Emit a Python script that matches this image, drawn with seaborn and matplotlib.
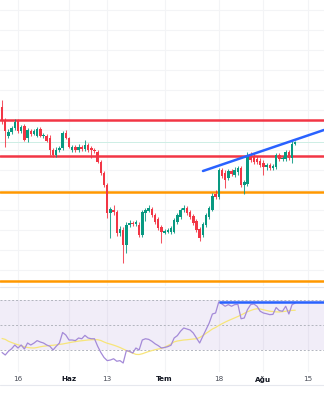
import numpy as np
import pandas as pd
import matplotlib
matplotlib.use("Agg")
import matplotlib.pyplot as plt
from matplotlib.lines import Line2D
import seaborn as sns

# ---------------- data ----------------
day = list(range(-5, 88))
opens = [293, 280, 264, 268, 272, 279, 269, 274, 262, 269, 266, 264, 271, 264, 264, 262,
         250, 245, 250, 252, 267, 262, 250, 253, 250, 253, 251, 255, 252, 250, 248, 238,
         227, 215, 187, 190, 188, 167, 170, 155, 175, 177, 176, 175, 165, 187, 189, 191,
         185, 181, 173, 167, 168, 168, 168, 178, 183, 190, 192, 188, 184, 179, 171, 165,
         175, 183, 190, 206, 203, 230, 227, 222, 229, 225, 228, 232, 215, 216, 245, 244,
         241, 239, 237, 233, 235, 232, 233, 245, 241, 241, 248, 242, 256]
closes = [280, 269, 268, 272, 278, 269, 273, 260, 270, 266, 269, 271, 264, 265, 259, 250,
          245, 250, 252, 267, 262, 253, 253, 250, 253, 251, 255, 250, 250, 249, 238, 227,
          215, 187, 191, 188, 167, 171, 155, 175, 177, 176, 178, 165, 188, 190, 192, 185,
          178, 172, 168, 169, 170, 172, 180, 185, 190, 192, 187, 183, 177, 170, 162, 176,
          185, 192, 204, 203, 230, 224, 220, 229, 226, 230, 232, 215, 218, 244, 240, 238,
          238, 235, 233, 235, 232, 234, 245, 241, 242, 248, 242, 256, 258]
highs = [300, 282, 271, 274, 281, 281, 275, 276, 272, 271, 271, 273, 273, 267, 266, 265,
         252, 253, 254, 269, 270, 263, 255, 255, 256, 255, 260, 257, 254, 252, 250, 240,
         229, 217, 193, 195, 190, 174, 173, 178, 180, 179, 180, 178, 190, 192, 195, 193,
         187, 183, 175, 171, 172, 174, 182, 187, 192, 195, 194, 190, 186, 181, 173, 178,
         187, 194, 207, 210, 232, 232, 230, 231, 231, 233, 234, 234, 220, 248, 248, 247,
         244, 242, 240, 237, 237, 236, 247, 247, 244, 250, 250, 259, 259]
lows = [276, 253, 262, 266, 270, 267, 267, 259, 258, 264, 265, 263, 263, 262, 258, 245,
        243, 243, 248, 250, 261, 252, 248, 248, 248, 249, 249, 248, 242, 247, 237, 225,
        213, 182, 162, 185, 164, 164, 137, 147, 173, 174, 174, 163, 163, 179, 188, 183,
        176, 170, 157, 166, 167, 166, 167, 176, 181, 188, 185, 181, 175, 168, 159, 163,
        173, 181, 189, 201, 201, 222, 212, 220, 224, 223, 225, 213, 206, 214, 238, 236,
        236, 233, 225, 230, 230, 230, 231, 239, 239, 239, 240, 237, 255]

rsi = [28, 26, 29, 31, 34, 31.6, 34, 30.8, 35.6, 34, 35.5, 37.5, 36.4, 35.6, 34, 33,
       30, 33, 35.6, 44, 42, 38, 38, 37.5, 39.6, 39, 41.7, 39.6, 39, 39, 33, 28,
       24, 21.5, 22, 23, 21, 21.5, 19.6, 29.5, 29, 27.6, 31.6, 30, 38, 39, 38.5, 37,
       35, 33.5, 31.6, 32, 32.7, 33.8, 39.6, 41.5, 45, 47.6, 46.8, 46, 43.6, 39.6, 35.6, 41,
       46.3, 51.6, 58.8, 59.6, 68.5, 66.8, 65, 66.3, 65, 66.3, 66.5, 55, 55.6, 62.3, 66.3, 66.8,
       65, 61, 59.6, 59, 58.3, 58.5, 64, 61.5, 61, 65, 58.8, 66.3, 67.6]
rsi_ma = [39.2, 38.5, 37, 36, 35, 34.2, 33.5, 32.5, 32, 31.7, 31.6, 32, 32.6, 33, 33.3, 33.6,
          33.8, 34.1, 34.5, 34.8, 35.3, 35.8, 36.3, 36.7, 37.1, 37.4, 37.7, 38, 38.2, 38.3, 38.2, 37.6,
          36.4, 35.4, 34.7, 33.9, 33, 32, 30.8, 29.6, 28.5, 27.5, 26.5, 26.4, 27, 27.9, 28.8, 29.5,
          30.2, 30.8, 31.3, 32.2, 33.5, 34.8, 36.5, 37.2, 37.6, 38, 38.2, 38.5, 38.8, 39, 40, 41.5,
          43.3, 45, 46.8, 48, 49.6, 51, 52.3, 53.5, 54.6, 55.7, 56.8, 58, 59.3, 60.6, 61.6, 62.5,
          63, 62.8, 62.2, 61.6, 61, 60.8, 60.5, 60.4, 60.7, 61, 61.5, 61.7, 61.8]

tick_days = [0, 16, 28, 46, 63, 77, 91]
tick_labels = ["16", "Haz", "13", "Tem", "18", "Ağu", "15"]
month_labels = ["Haz", "Tem", "Ağu"]
price_grid = list(range(130, 400, 20))
resistance_levels = [280, 244]
support_levels = [208.5, 119]
last_price = 258
trend_days = [58.05, 96.0]
trend_prices = [229, 270]
rsi_bands = [30, 50, 70]
rsi_trend_level = 68.4
rsi_trend_start = 63

# ---------------- styling ----------------
sns.set_theme(style="white")
plt.rcParams["font.family"] = ["DejaVu Sans"]

UP = "#089981"
DOWN = "#F23645"
GRID = "#f3f4f6"

W, H = 324, 400
fig = plt.figure(figsize=(W / 100, H / 100), dpi=100)
fig.patch.set_facecolor("white")

XMIN, XMAX = -5.648, 96.02
ax = fig.add_axes([0, 1 - 286 / H, 1, 286 / H])
ax2 = fig.add_axes([0, 1 - 372 / H, 1, (372 - 287) / H])

df = pd.DataFrame({"day": day, "open": opens, "close": closes, "high": highs, "low": lows})
df["up"] = df["close"] >= df["open"]
df["color"] = np.where(df["up"], UP, DOWN)
df["bottom"] = df[["open", "close"]].min(axis=1)
df["height"] = (df["close"] - df["open"]).abs().clip(lower=1.0)

# gridlines
for d in tick_days:
    ax.axvline(d, color=GRID, lw=0.8, zorder=0)
    ax2.axvline(d, color=GRID, lw=0.8, zorder=0)
for p in price_grid:
    ax.axhline(p, color=GRID, lw=0.8, zorder=0)

# levels
ax.axhline(last_price, color="#cdeee5", lw=0.7, zorder=1)
for lv in resistance_levels:
    ax.axhline(lv, color=DOWN, lw=1.8, zorder=2)
for lv in support_levels:
    ax.axhline(lv, color="#FF9800", lw=1.8, zorder=2)

# candles
ax.vlines(df["day"], df["low"], df["high"], colors=df["color"], lw=0.75, alpha=0.85, zorder=3)
ax.bar(df["day"], df["height"], bottom=df["bottom"], width=0.78,
       color=df["color"], linewidth=0, zorder=4)

# trend line
sns.lineplot(x=trend_days, y=trend_prices, ax=ax, color="#2962FF", lw=1.8, zorder=5)

ax.set_xlim(XMIN, XMAX)
ax.set_ylim(114, 400)
ax.set_xticks([])
ax.set_yticks([])
for s in ax.spines.values():
    s.set_visible(False)
ax.set_facecolor("white")

# RSI panel
ax2.axhspan(rsi_bands[0], rsi_bands[2], color="#7E57C2", alpha=0.1, lw=0, zorder=0)
for b in rsi_bands:
    ax2.axhline(b, color="#b2b5be", lw=0.7, ls=(0, (2, 2)), zorder=1)
sns.lineplot(x=day, y=rsi_ma, ax=ax2, color="#f7e57a", lw=0.9, zorder=2)
sns.lineplot(x=day, y=rsi, ax=ax2, color="#a48ad8", lw=0.9, zorder=3)
ax2.hlines(rsi_trend_level, rsi_trend_start, XMAX, color="#2962FF", lw=1.8, zorder=4)

ax2.set_xlim(XMIN, XMAX)
ax2.set_ylim(12.4, 80.4)
ax2.set_yticks([])
ax2.set_xticks(tick_days)
ax2.set_xticklabels(tick_labels)
ax2.tick_params(axis="x", length=0, pad=3, labelsize=5.2, colors="#4a4e59")
for lab in ax2.get_xticklabels():
    if lab.get_text() in month_labels:
        lab.set_fontweight("bold")
        lab.set_color("#131722")
ax2.set_xlabel("")
ax2.set_ylabel("")
for s in ax2.spines.values():
    s.set_visible(False)
ax2.set_facecolor("white")

# panel separators
fig.add_artist(Line2D([0, 1], [1 - 286.5 / H] * 2, color="#e6e8ee", lw=0.8))
fig.add_artist(Line2D([0, 1], [1 - 384.5 / H] * 2, color="#e6e8ee", lw=0.8))

fig.savefig("out.png", dpi=100, facecolor="white")
